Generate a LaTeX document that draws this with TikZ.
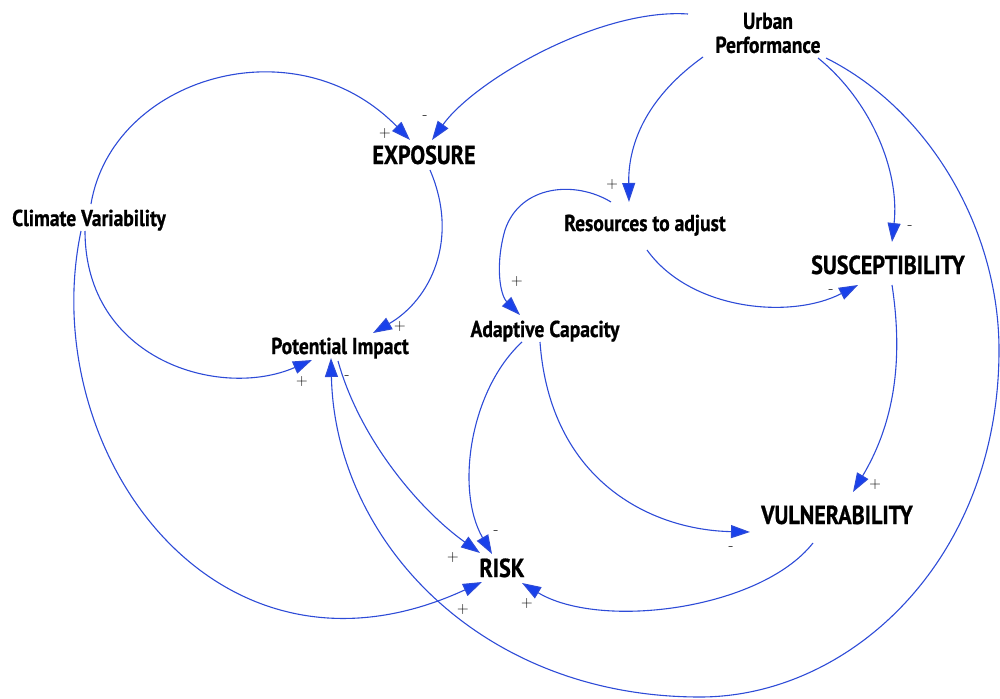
\documentclass[tikz,border=0pt]{standalone}
\usepackage{fontspec}
\usetikzlibrary{arrows.meta}
\newfontfamily\labfont{PT Sans}[FakeStretch=0.85, BoldFeatures={FakeBold=0.8}]
\definecolor{linkblue}{RGB}{45,75,215}
\definecolor{tipblue}{RGB}{25,65,235}
\tikzset{
  var/.style={font=\labfont\bfseries\fontsize{23}{26}\selectfont, inner sep=0pt, anchor=base, text=black},
  bigvar/.style={font=\labfont\bfseries\fontsize{26}{28}\selectfont, inner sep=0pt, anchor=base, text=black},
  link/.style={draw=linkblue, line width=1.1pt, -{Triangle[length=19pt,width=13pt,fill=tipblue]}},
  sign/.style={font=\fontsize{16}{16}\selectfont, text=black, inner sep=0pt}
}
\begin{document}
\begin{tikzpicture}[x=1pt,y=-1pt]
\useasboundingbox (0,0) rectangle (1000,698);

% variables
\node[var, align=center, anchor=center] (up) at (768,33) {Urban\\[-2pt]Performance};
\node[bigvar] (exp) at (424,164) {EXPOSURE};
\node[var] (cv) at (89,226) {Climate Variability};
\node[var] (rta) at (645,231) {Resources to adjust};
\node[bigvar] (sus) at (888,274) {SUSCEPTIBILITY};
\node[var] (pi) at (340,354) {Potential Impact};
\node[var] (ac) at (545,337) {Adaptive Capacity};
\node[bigvar] (vul) at (837,524) {VULNERABILITY};
\node[bigvar] (risk) at (502,577) {RISK};

% links
\draw[link] ([shift={(-80,-19)}]up.center) .. controls (600,8) and (475,80) .. ([shift={(8,-24)}]exp.base);
\draw[link] ([shift={(2,-22)}]cv.base) .. controls (112,78) and (295,22) .. ([shift={(-14,-24)}]exp.base);
\draw[link] ([shift={(-4,5)}]cv.base) .. controls (85,360) and (220,400) .. ([shift={(-28,6)}]pi.base);
\draw[link] ([shift={(-8,5)}]cv.base) .. controls (35,450) and (215,705) .. ([shift={(-20,5)}]risk.base);
\draw[link] ([shift={(6,6)}]exp.base) .. controls (460,240) and (430,300) .. ([shift={(33,-21)}]pi.base);
\draw[link] ([shift={(-2,7)}]pi.base) .. controls (360,440) and (420,510) .. ([shift={(-22,-24)}]risk.base);
\draw[link] ([shift={(58,25)}]up.center) .. controls (930,110) and (999,230) .. (999,350)
  .. controls (999,560) and (850,697) .. (700,697)
  .. controls (480,697) and (335,540) .. ([shift={(-9,4)}]pi.base);
\draw[link] ([shift={(-65,24)}]up.center) .. controls (650,95) and (628,140) .. ([shift={(-16,-29)}]rta.base);
\draw[link] ([shift={(50,25)}]up.center) .. controls (870,100) and (900,170) .. ([shift={(4,-32)}]sus.base);
\draw[link] ([shift={(-34,-29)}]rta.base) .. controls (575,180) and (520,185) .. (505,230)
  .. controls (495,265) and (500,295) .. ([shift={(-25,-22)}]ac.base);
\draw[link] ([shift={(2,19)}]rta.base) .. controls (690,310) and (790,320) .. ([shift={(-30,11)}]sus.base);
\draw[link] ([shift={(4,11)}]sus.base) .. controls (905,370) and (890,430) .. ([shift={(16,-32)}]vul.base);
\draw[link] ([shift={(-5,5)}]ac.base) .. controls (550,480) and (650,530) .. ([shift={(-87,8)}]vul.base);
\draw[link] ([shift={(-23,5)}]ac.base) .. controls (470,390) and (455,490) .. ([shift={(-10,-23)}]risk.base);
\draw[link] ([shift={(-24,19)}]vul.base) .. controls (760,610) and (600,630) .. ([shift={(20,6)}]risk.base);

% polarities
\node[sign] (s1) at (425,118) {-};
\node[sign] (s2) at (385,134) {+};
\node[sign] (s3) at (612,185) {+};
\node[sign] (s4) at (910,228) {-};
\node[sign] (s5) at (517,282) {+};
\node[sign] (s6) at (831,292) {-};
\node[sign] (s7) at (400,327) {+};
\node[sign] (s8) at (302,382) {+};
\node[sign] (s9) at (347,378) {-};
\node[sign] (s10) at (875,485) {+};
\node[sign] (s11) at (731,549) {-};
\node[sign] (s12) at (496,533) {-};
\node[sign] (s13) at (453,558) {+};
\node[sign] (s14) at (463,609) {+};
\node[sign] (s15) at (527,604) {+};
\end{tikzpicture}
\end{document}
